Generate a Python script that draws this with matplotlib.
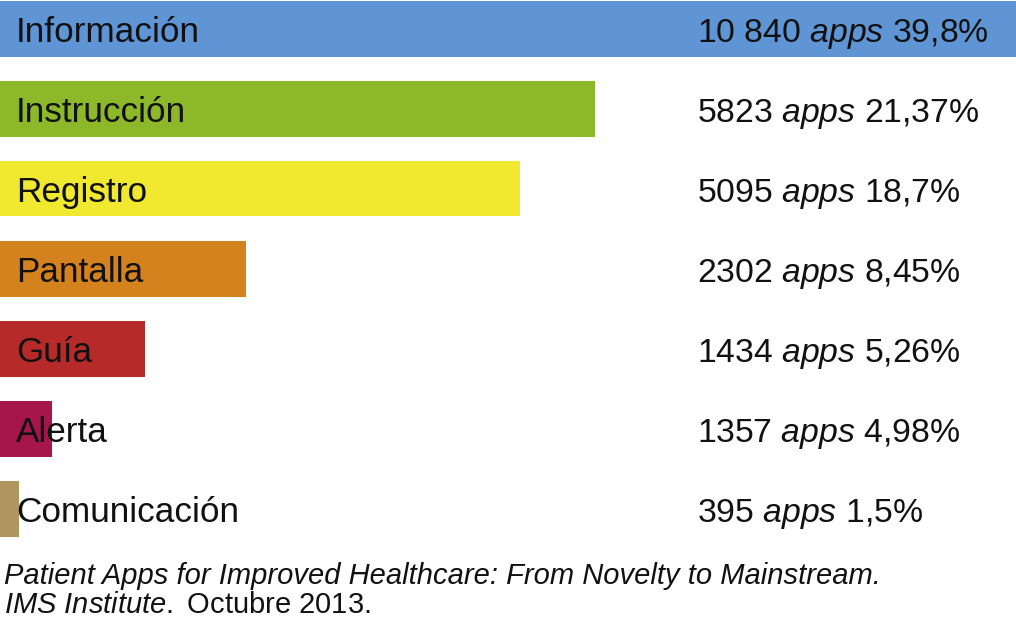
import matplotlib
matplotlib.use("Agg")
import matplotlib.pyplot as plt

# Datos
categorias = ["Información", "Instrucción", "Registro", "Pantalla", "Guía", "Alerta", "Comunicación"]
apps = ["10 840", "5823", "5095", "2302", "1434", "1357", "395"]
porcentajes = ["39,8%", "21,37%", "18,7%", "8,45%", "5,26%", "4,98%", "1,5%"]
# longitud visible de cada barra (fracción del ancho, la primera ocupa todo)
longitudes = [1.0, 0.586, 0.512, 0.242, 0.143, 0.051, 0.019]
colores = ["#5f95d4", "#8db82a", "#f0e92f", "#d3821e", "#b72a2a", "#a6164a", "#b1955f"]

plt.rcParams['font.family'] = ['Liberation Sans', 'DejaVu Sans']
plt.rcParams['mathtext.fontset'] = 'custom'
plt.rcParams['mathtext.rm'] = 'Liberation Sans'
plt.rcParams['mathtext.it'] = 'Liberation Sans:italic'

W, H = 1016, 619
fig = plt.figure(figsize=(W / 100, H / 100), dpi=100)
ax = fig.add_axes([0, 0, 1, 1])

# 80 px entre barras, la primera centrada a 28.5 px del borde superior
paso = 80
ax.set_ylim((H - 28.5) / paso, -28.5 / paso)
ax.set_xlim(0, 1)
ax.axis("off")

pos = list(range(len(categorias)))
ax.barh(pos, longitudes, height=56 / paso, color=colores, left=0)

for i in pos:
    ax.text(16 / W, i + 13.5 / paso, categorias[i], fontsize=25.3, color="#111111",
            va="baseline", ha="left", transform=ax.get_yaxis_transform())
    ax.text(697 / W, i + 13.5 / paso, apps[i] + r" $\mathit{apps}$ " + porcentajes[i],
            fontsize=24.3, color="#111111", va="baseline", ha="left",
            transform=ax.get_yaxis_transform())

# Fuente
fig.text(4 / W, 1 - 584 / H, "Patient Apps for Improved Healthcare: From Novelty to Mainstream.",
         fontsize=21, style="italic", color="#111111", va="baseline")
fig.text(4 / W, 1 - 613 / H, r"$\mathit{IMS\ Institute.}$" + " Octubre 2013.",
         fontsize=21, color="#111111", va="baseline")

fig.savefig("out.png", dpi=100)
